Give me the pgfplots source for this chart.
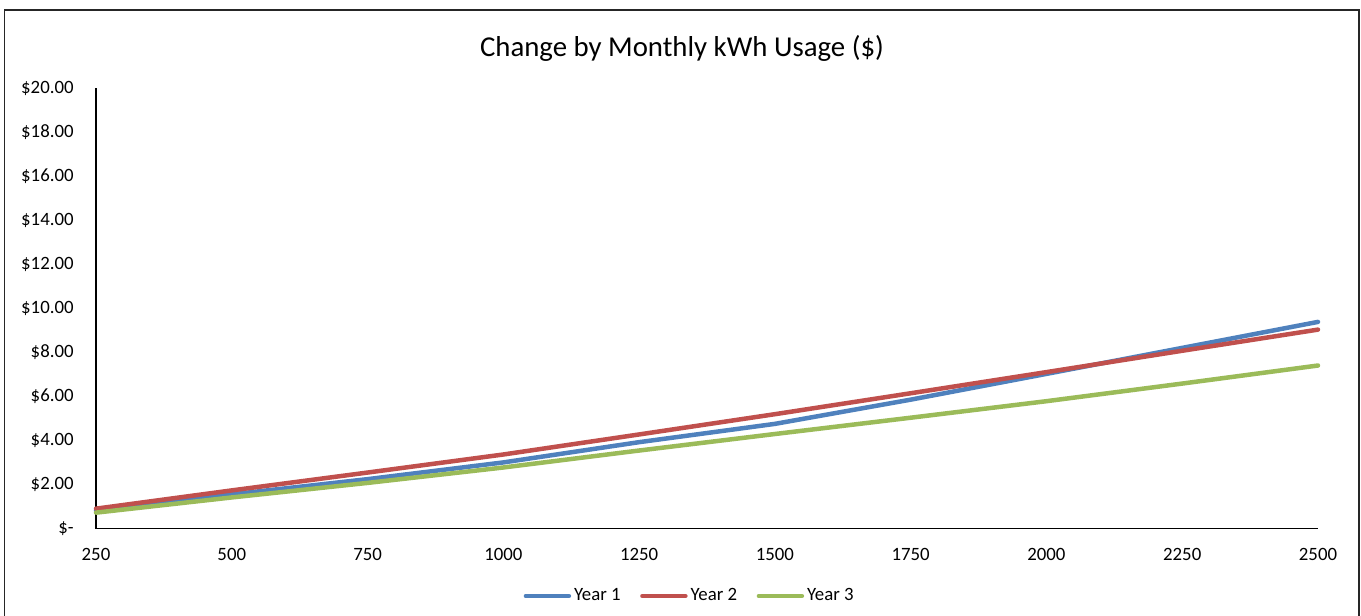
\documentclass[border=0pt]{standalone}
\usepackage{pgfplots}
\pgfplotsset{compat=1.18}
\usepackage{fontspec}
\setmainfont{Carlito}
\definecolor{c1}{HTML}{4F81BD}
\definecolor{c2}{HTML}{C0504D}
\definecolor{c3}{HTML}{9BBB59}
\begin{document}
\begin{tikzpicture}
\useasboundingbox (-48bp,-43.75bp) rectangle (632.5bp,264.25bp);
\draw[line width=0.7bp, black!85] (-45.65bp,-46bp) rectangle (631.5bp,259.25bp);
\begin{axis}[
 scale only axis, width=611bp, height=220.25bp,
 xmin=250, xmax=2500, ymin=0, ymax=20,
 axis lines=left, axis line style={-, line width=0.6bp, black},
 xtick={250,500,750,1000,1250,1500,1750,2000,2250,2500},
 xticklabels={250,500,750,1000,1250,1500,1750,2000,2250,2500},
 ytick={0,2,4,6,8,10,12,14,16,18,20},
 yticklabels={\$-\hspace{3.5bp},\$2.00,\$4.00,\$6.00,\$8.00,\$10.00,\$12.00,\$14.00,\$16.00,\$18.00,\$20.00},
 major tick length=0pt,
 tick label style={font=\fontsize{9.4bp}{11bp}\selectfont, inner sep=0pt},
 xticklabel style={anchor=center, yshift=-12.75bp},
 yticklabel style={anchor=east, xshift=-11bp},
 clip=false,
 title={Change by Monthly kWh Usage (\$)},
 title style={at={(axis description cs:0.4795,1.0636)}, anchor=center, font=\fontsize{14.4bp}{17bp}\selectfont, inner sep=0pt},
 legend columns=3,
 legend style={draw=none, fill=none, at={(axis description cs:0.4850,-0.1532)}, anchor=center,
   font=\fontsize{9.4bp}{11bp}\selectfont, inner sep=0pt, nodes={inner sep=0pt},
   /tikz/every odd column/.append style={column sep=1.5bp},
   /tikz/every even column/.append style={column sep=9.75bp}},
 legend image code/.code={\draw[#1] (0bp,0bp) -- (21.5bp,0bp);},
 every axis plot/.append style={line width=2.25bp, line cap=round, line join=round},
]
\addplot[c1, no marks] coordinates {(250,0.81) (500,1.55) (750,2.24) (1000,3.00) (1250,3.92) (1500,4.75) (1750,5.85) (2000,7.02) (2250,8.20) (2500,9.38)};
\addplot[c2, no marks] coordinates {(250,0.90) (500,1.73) (750,2.54) (1000,3.36) (1250,4.27) (1500,5.19) (1750,6.14) (2000,7.10) (2250,8.07) (2500,9.03)};
\addplot[c3, no marks] coordinates {(250,0.72) (500,1.41) (750,2.07) (1000,2.77) (1250,3.54) (1500,4.29) (1750,5.03) (2000,5.78) (2250,6.58) (2500,7.40)};
\legend{Year 1, Year 2, Year 3}
\end{axis}
\end{tikzpicture}
\end{document}
